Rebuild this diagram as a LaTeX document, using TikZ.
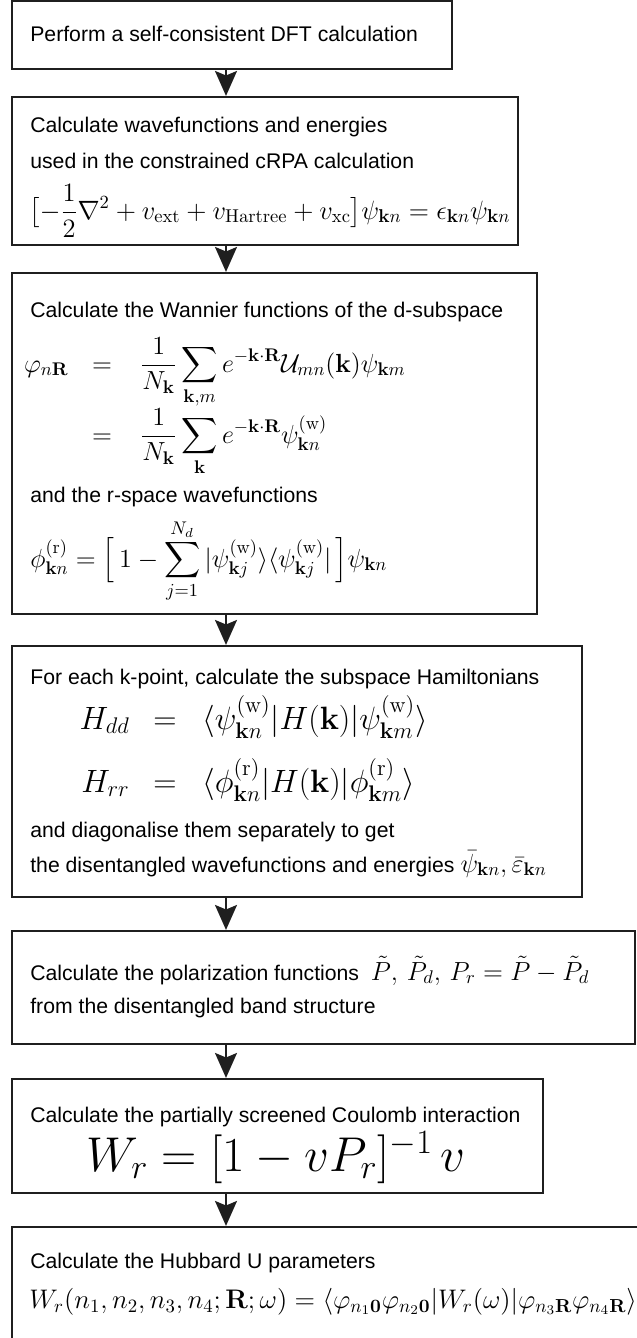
\RequirePackage{fix-cm}
\documentclass[tikz,border=0pt]{standalone}
\usepackage{amsmath}
\usepackage[no-math]{fontspec}
\setmainfont{Liberation Sans}
\usetikzlibrary{arrows.meta,fit}
\newcommand\tsz{\fontsize{12.15}{14.6}\selectfont}
\newcommand\msz{\fontsize{15}{18}\selectfont}
\newcommand\hsz{\fontsize{18.5}{22}\selectfont}
\newcommand\wsz{\fontsize{28}{33}\selectfont}
\begin{document}
\begin{tikzpicture}[x=0.5731pt,y=-0.5731pt,
  box/.style={draw=black!88, line width=1.25pt, inner sep=0pt},
  txt/.style={anchor=base west, inner sep=0pt, font=\tsz},
  mth/.style={inner sep=0pt, font=\msz},
  hmth/.style={inner sep=0pt, font=\hsz},
  arr/.style={draw=black!88, line width=1.25pt, -{Stealth[length=14.3pt,width=12.6pt,inset=2.6pt]}}]
\useasboundingbox (0,0) rectangle (637,1338);
\clip (0,0) rectangle (637,1338);
% boxes
\node[box, fit={(12,1) (452,69)}] (b1) {};
\node[box, fit={(12,97) (518,245)}] (b2) {};
\node[box, fit={(12,273) (537,614)}] (b3) {};
\node[box, fit={(12,646) (582,897)}] (b4) {};
\node[box, fit={(12,931) (635,1044)}] (b5) {};
\node[box, fit={(12,1079) (543,1193)}] (b6) {};
\node[box, fit={(12,1227) (690,1390)}] (b7) {};
% arrows
\coordinate (ax) at (226,0);
\draw[arr] (b1.south -| ax) -- (b2.north -| ax);
\draw[arr] (b2.south -| ax) -- (b3.north -| ax);
\draw[arr] (b3.south -| ax) -- (b4.north -| ax);
\draw[arr] (b4.south -| ax) -- (b5.north -| ax);
\draw[arr] (b5.south -| ax) -- (b6.north -| ax);
\draw[arr] (b6.south -| ax) -- (b7.north -| ax);
% box 1
\node[txt] (t1) at (30,41) {Perform a self-consistent DFT calculation};
% box 2
\node[txt] (t2a) at (30,132) {Calculate wavefunctions and energies};
\node[txt] (t2b) at (30,168) {used in the constrained cRPA calculation};
\node[mth, anchor=base west, font=\fontsize{15.2}{18}\selectfont] (e2) at (29,219) {$\displaystyle\bigl[-\frac{1}{2}\nabla^2+v_{\mathrm{ext}}+v_{\mathrm{Hartree}}+v_{\mathrm{xc}}\bigr]\psi_{\mathbf{k}n}=\epsilon_{\mathbf{k}n}\psi_{\mathbf{k}n}$};
% box 3
\node[txt] (t3a) at (30,317) {Calculate the Wannier functions of the d-subspace};
\node[mth, anchor=base east] (e3l) at (69,372) {$\varphi_{n\mathbf{R}}$};
\node[mth, anchor=base] (e3q1) at (102,372) {$=$};
\node[mth, anchor=base west] (e3r1) at (140,372) {$\displaystyle\frac{1}{N_{\mathbf{k}}}\sum_{\mathbf{k},m}e^{-\mathbf{k}\cdot\mathbf{R}}\mathcal{U}_{mn}(\mathbf{k})\psi_{\mathbf{k}m}$};
\node[mth, anchor=base] (e3q2) at (102,443) {$=$};
\node[mth, anchor=base west] (e3r2) at (140,443) {$\displaystyle\frac{1}{N_{\mathbf{k}}}\sum_{\mathbf{k}}e^{-\mathbf{k}\cdot\mathbf{R}}\psi^{(\mathrm{w})}_{\mathbf{k}n}$};
\node[txt] (t3b) at (30,502) {and the r-space wavefunctions};
\node[mth, anchor=base west] (e3c) at (30,567) {$\displaystyle\phi^{(\mathrm{r})}_{\mathbf{k}n}=\Bigl[\,1-\sum_{j=1}^{N_d}|\psi^{(\mathrm{w})}_{\mathbf{k}j}\rangle\langle\psi^{(\mathrm{w})}_{\mathbf{k}j}|\,\Bigr]\psi_{\mathbf{k}n}$};
% box 4
\node[txt] (t4a) at (30,684) {For each k-point, calculate the subspace Hamiltonians};
\node[hmth, anchor=base east] (h1l) at (130,729) {$H_{dd}$};
\node[hmth, anchor=base] (h1q) at (165,729) {$=$};
\node[hmth, anchor=base west] (h1r) at (202,729) {$\langle\psi^{(\mathrm{w})}_{\mathbf{k}n}|H(\mathbf{k})|\psi^{(\mathrm{w})}_{\mathbf{k}m}\rangle$};
\node[hmth, anchor=base east] (h2l) at (130,792) {$H_{rr}$};
\node[hmth, anchor=base] (h2q) at (165,792) {$=$};
\node[hmth, anchor=base west] (h2r) at (202,792) {$\langle\phi^{(\mathrm{r})}_{\mathbf{k}n}|H(\mathbf{k})|\phi^{(\mathrm{r})}_{\mathbf{k}m}\rangle$};
\node[txt] (t4b) at (30,837) {and diagonalise them separately to get};
\node[txt] (t4c) at (30,872) {the disentangled wavefunctions and energies {\msz$\bar{\psi}_{\mathbf{k}n},\bar{\varepsilon}_{\mathbf{k}n}$}};
% box 5
\node[txt] (t5a) at (30,980) {Calculate the polarization functions \ {\msz$\tilde{P},\,\tilde{P}_d,\,P_r=\tilde{P}-\tilde{P}_d$}};
\node[txt] (t5b) at (30,1013) {from the disentangled band structure};
% box 6
\node[txt] (t6a) at (30,1122) {Calculate the partially screened Coulomb interaction};
\node[inner sep=0pt, font=\wsz, anchor=base] (e6) at (276,1171) {$W_r=[1-vP_r]^{-1}\,v$};
% box 7
\node[txt] (t7a) at (30,1268) {Calculate the Hubbard U parameters};
\node[mth, anchor=base west, font=\fontsize{15.4}{18}\selectfont] (e7) at (29,1308) {$W_r(n_1,n_2,n_3,n_4;\mathbf{R};\omega)=\langle\varphi_{n_1\mathbf{0}}\varphi_{n_2\mathbf{0}}|W_r(\omega)|\varphi_{n_3\mathbf{R}}\varphi_{n_4\mathbf{R}}\rangle$};
\end{tikzpicture}
\end{document}
